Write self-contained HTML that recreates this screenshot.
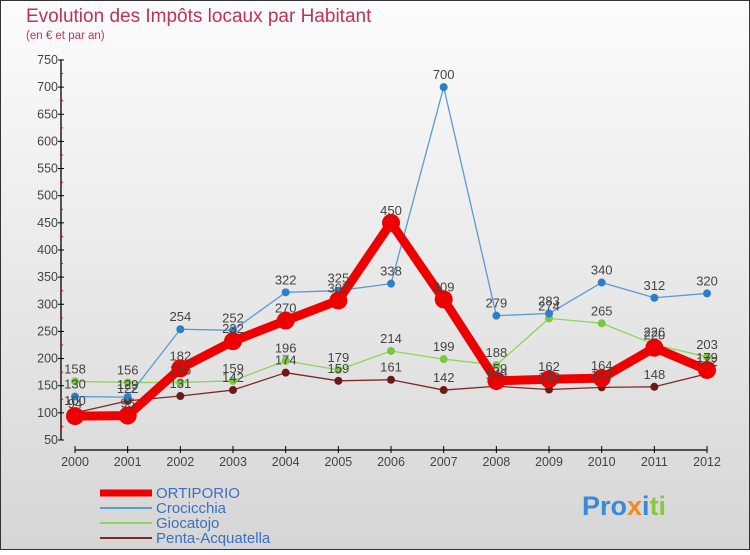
<!DOCTYPE html>
<html><head><meta charset="utf-8"><style>
body{margin:0;width:750px;height:550px;overflow:hidden;font-family:"Liberation Sans",sans-serif}
</style></head><body>
<svg width="750" height="550" viewBox="0 0 750 550" xmlns="http://www.w3.org/2000/svg" font-family="Liberation Sans, sans-serif">
<defs><linearGradient id="bg" x1="0" y1="0" x2="0" y2="1">
<stop offset="0" stop-color="#fcfcfc"/><stop offset="1" stop-color="#d6d6d6"/></linearGradient></defs>
<rect x="0" y="0" width="750" height="550" fill="url(#bg)"/>
<rect x="0.5" y="0.5" width="749" height="549" fill="none" stroke="#333"/>
<text x="26" y="22" font-size="19" fill="#c0305a">Evolution des Impôts locaux par Habitant</text>
<text x="26" y="39" font-size="11.5" fill="#c0305a">(en € et par an)</text>
<g stroke="#000" stroke-width="1.3">
<line x1="61" y1="60" x2="61" y2="440"/>
<line x1="75" y1="450" x2="707" y2="450"/>
</g>
<g id="yt" font-size="12.5" fill="#444" text-anchor="end"></g>
<g id="xt" font-size="12.5" fill="#444" text-anchor="middle"></g>
<g id="series"></g>
<g font-size="15">
<line x1="100" y1="493" x2="152" y2="493" stroke="#e00" stroke-width="7"/>
<text x="156" y="498" fill="#3a6fc4">ORTIPORIO</text>
<line x1="100" y1="508" x2="152" y2="508" stroke="#5b9bd5" stroke-width="2"/>
<text x="156" y="513" fill="#3a6fc4">Crocicchia</text>
<line x1="100" y1="523" x2="152" y2="523" stroke="#8fd45a" stroke-width="2"/>
<text x="156" y="528" fill="#3a6fc4">Giocatojo</text>
<line x1="100" y1="538" x2="152" y2="538" stroke="#7a2a2a" stroke-width="2"/>
<text x="156" y="543" fill="#3a6fc4">Penta-Acquatella</text>
</g>
<text x="582" y="515" font-size="27" font-weight="bold" fill="#3a8ad8">Pro<tspan fill="#f08a20">x</tspan><tspan fill="#3a8ad8">i</tspan><tspan fill="#8cc63f">ti</tspan></text>
</svg>
<script>
const ns="http://www.w3.org/2000/svg";
const X=i=>75+i*52.67, Y=v=>440-(v-50)*0.5429;
function el(p,t,a,txt){const e=document.createElementNS(ns,t);for(const k in a)e.setAttribute(k,a[k]);if(txt!=null)e.textContent=txt;p.appendChild(e);return e;}
const yt=document.getElementById('yt'),xt=document.getElementById('xt'),s=document.getElementById('series');
const svg=document.querySelector('svg');
for(let v=50;v<=750;v+=50){el(yt,'text',{x:58,y:Y(v)+4},v);el(svg,'line',{x1:58,x2:64,y1:Y(v),y2:Y(v),stroke:'#000'});
 if(v<750)el(svg,'line',{x1:60,x2:63,y1:Y(v+25),y2:Y(v+25),stroke:'#e00'});}
for(let i=0;i<13;i++){el(xt,'text',{x:X(i),y:466},2000+i);el(svg,'line',{x1:X(i),x2:X(i),y1:446,y2:453,stroke:'#000'});}
const S=[
 {d:[100,122,131,142,174,159,161,142,149,143,147,148,172],c:'#7a2a2a',w:1.3,r:4,f:'#6b1a1a'},
 {d:[158,156,156,159,196,179,214,199,188,274,265,226,203],c:'#8fd45a',w:1.3,r:4,f:'#7cc83c'},
 {d:[130,129,254,252,322,325,338,700,279,283,340,312,320],c:'#5b9bd5',w:1.3,r:4,f:'#2f7fc8'},
 {d:[94,95,182,232,270,307,450,309,159,162,164,220,179],c:'#e00',w:9,r:9,f:'#e00'}];
S.forEach(o=>{el(s,'polyline',{points:o.d.map((v,i)=>X(i)+','+Y(v)).join(' '),fill:'none',stroke:o.c,'stroke-width':o.w,'stroke-linejoin':'round'});
 o.d.forEach((v,i)=>{el(s,'circle',{cx:X(i),cy:Y(v),r:o.r,fill:o.f});});});
S.forEach(o=>o.d.forEach((v,i)=>el(s,'text',{x:X(i),y:Y(v)-8,'font-size':13,fill:'#444','text-anchor':'middle'},v)));
</script>
</body></html>
